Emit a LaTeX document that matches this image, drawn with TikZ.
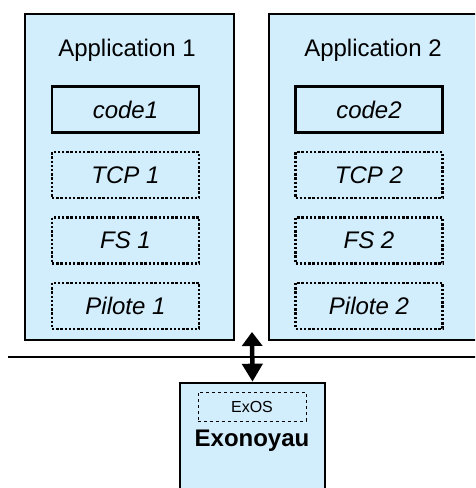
\documentclass[tikz,border=0pt]{standalone}
\usepackage{fontspec}
\setmainfont{Liberation Sans}
\usetikzlibrary{positioning, arrows.meta}

\definecolor{boxblue}{RGB}{210,237,252}

\begin{document}
\begin{tikzpicture}[x=1pt,y=-1pt,node distance=17pt]
            \tikzset{appbox/.style={draw,fill=boxblue,line width=2.6pt,minimum width=209pt,minimum height=326pt,inner sep=0pt}}
            \tikzset{title/.style={font=\fontsize{24}{28}\selectfont,anchor=base}}
            \tikzset{codebox/.style={draw,line width=2.6pt,minimum width=147pt,minimum height=46pt,inner sep=0pt,font=\fontsize{24}{28}\selectfont\itshape}}
            \tikzset{layerbox/.style={codebox,line width=2.4pt,dash pattern=on 2.4pt off 1.8pt}}
            \tikzset{kernelbox/.style={draw,fill=boxblue,line width=2.6pt,minimum width=145pt,minimum height=140pt,inner sep=0pt}}

            \useasboundingbox (0,0) rectangle (475,488);
            \clip (0,0) rectangle (475,488);

            % applications
            \node[appbox] (app1) at (129.5,177) {};
            \node[appbox] (app2) at (373.5,177) {};

            \node[title] (title1) at (127,56) {Application 1};
            \node[title] (title2) at (373,56) {Application 2};

            \node[codebox] (code1) at (125.5,109.5) {code1};
            \node[layerbox] (tcp1) [below = of code1] {TCP 1};
            \node[layerbox] (fs1) [below = of tcp1] {FS 1};
            \node[layerbox] (pilote1) [below = of fs1] {Pilote 1};

            \node[codebox] (code2) at (369,109.5) {code2};
            \node[layerbox] (tcp2) [below = of code2] {TCP 2};
            \node[layerbox] (fs2) [below = of tcp2] {FS 2};
            \node[layerbox] (pilote2) [below = of fs2] {Pilote 2};

            % bus
            \coordinate (busl) at (8,357);
            \coordinate (busr) at (480,357);
            \draw[line width=2.6pt] (busl) -- (busr);

            % noyau
            \node[kernelbox] (kernel) at (252.5,453) {};
            \node[draw,dashed,line width=1pt,minimum width=108pt,minimum height=29pt,inner sep=0pt,font=\fontsize{16}{19}\selectfont] (exos) at (252,406.5) {ExOS};
            \node[font=\fontsize{24}{28}\selectfont\bfseries,anchor=base] (exo) at (252,446) {Exonoyau};

            \coordinate (bustop) at (252,332);
            \draw[line width=4.5pt,{Triangle[width=20pt,length=14pt]}-{Triangle[width=20pt,length=18pt]}] (bustop) -- (kernel.north);

        \end{tikzpicture}
\end{document}
